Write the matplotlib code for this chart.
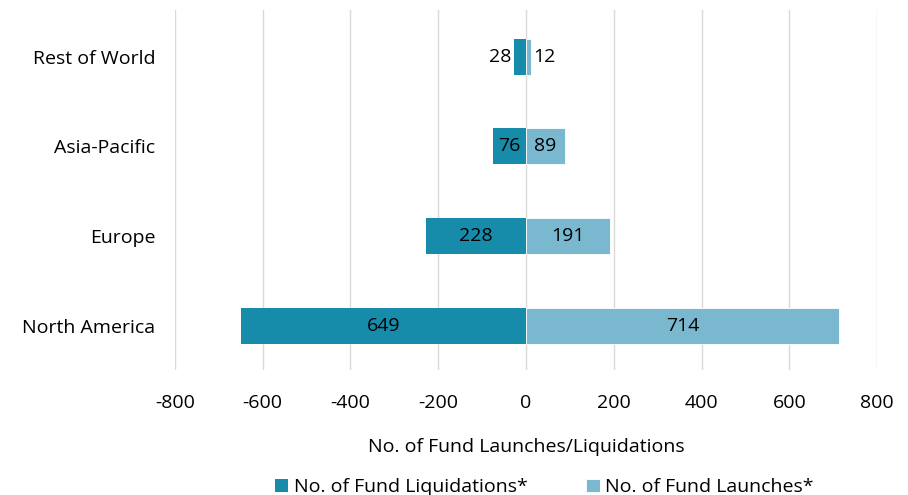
import matplotlib.pyplot as plt
import numpy as np

plt.rcParams['font.family'] = ['Open Sans', 'DejaVu Sans']
plt.rcParams['axes.unicode_minus'] = False

regions = ['North America', 'Europe', 'Asia-Pacific', 'Rest of World']
liquidations = [649, 228, 76, 28]
launches = [714, 191, 89, 12]

c_liq = '#168BAA'
c_lau = '#7AB8D0'

fig = plt.figure(figsize=(9.08, 4.95), dpi=100)
ax = fig.add_axes([0.1927, 0.2525, 0.7732, 0.7275])

y = np.arange(len(regions))
ax.barh(y, [-v for v in liquidations], 0.4, color=c_liq, label='No. of Fund Liquidations*')
ax.barh(y, launches, 0.4, color=c_lau, label='No. of Fund Launches*', edgecolor='white', linewidth=0.6)

for i in range(len(regions)):
    l = liquidations[i]
    r = launches[i]
    if l < 50:
        ax.text(-l - 5, y[i], str(l), ha='right', va='center', fontsize=14)
    else:
        ax.text(-l / 2, y[i], str(l), ha='center', va='center', fontsize=14)
    if r < 50:
        ax.text(r + 5, y[i], str(r), ha='left', va='center', fontsize=14)
    else:
        ax.text(r / 2, y[i], str(r), ha='center', va='center', fontsize=14)

ax.set_xlim(-800, 800)
ax.set_ylim(-0.49, 3.52)
ax.set_xticks(np.arange(-800, 801, 200))
ax.set_yticks(y)
ax.set_yticklabels(regions)
ax.tick_params(length=0, labelsize=14)
ax.tick_params(axis='y', pad=14)
ax.tick_params(axis='x', pad=17)
ax.xaxis.grid(True, color='#D9D9D9', linewidth=1)
ax.set_axisbelow(True)
for s in ax.spines.values():
    s.set_visible(False)
ax.set_xlabel('No. of Fund Launches/Liquidations', fontsize=14, labelpad=19)
ax.legend(loc='center', bbox_to_anchor=(0.526, -0.326), ncol=2, frameon=False,
          fontsize=14, handlelength=0.7, handleheight=0.7, columnspacing=3.0, handletextpad=0.3,
          borderpad=0)

fig.savefig('out.png', dpi=100)
